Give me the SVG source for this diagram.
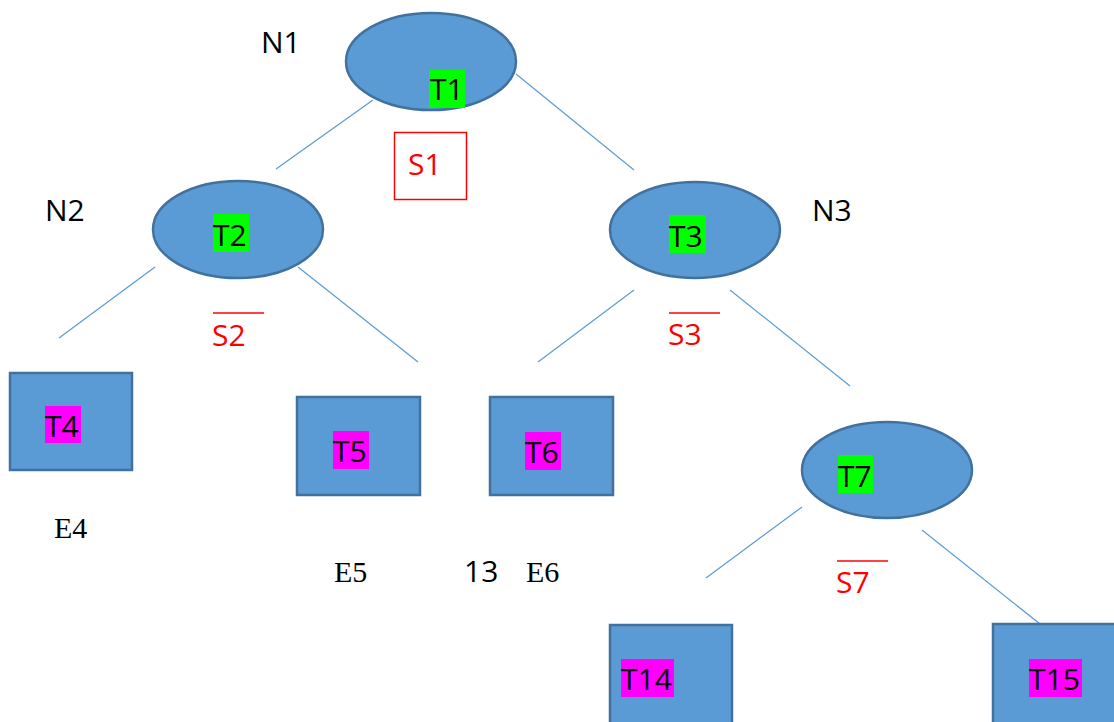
<svg xmlns="http://www.w3.org/2000/svg" width="1114" height="722" viewBox="0 0 1114 722">
<style>
.shape{fill:#5B9BD5;stroke:#41719C;stroke-width:2.5}
.edge{stroke:#5B9BD5;stroke-width:1.2;fill:none}
.lbl{font-family:"Open Sans",sans-serif;font-size:30px;fill:#000}
.hg{fill:#00FF00}
.hm{fill:#FF00FF}
.red{font-family:"Open Sans",sans-serif;font-size:30px;fill:#FF0000}
.ov{stroke:#FF0000;stroke-width:1.5}
.ser{font-family:"Liberation Serif",serif;font-size:30px;fill:#000}
</style>
<rect width="1114" height="722" fill="#fff"/>
<g id="connectors">
<line class="edge" x1="373" y1="100" x2="276" y2="169"/>
<line class="edge" x1="516" y1="74" x2="634" y2="170"/>
<line class="edge" x1="155" y1="267" x2="59" y2="338"/>
<line class="edge" x1="298" y1="267" x2="418" y2="362"/>
<line class="edge" x1="634" y1="290" x2="538" y2="362"/>
<line class="edge" x1="730" y1="290" x2="850" y2="386"/>
<line class="edge" x1="802" y1="507" x2="706" y2="578"/>
<line class="edge" x1="922" y1="530" x2="1040" y2="624"/>
</g>
<g id="N1">
<ellipse class="shape" cx="431" cy="61.5" rx="85" ry="48.5"/>
<rect class="hg" x="429" y="70" width="36" height="38"/>
<text class="lbl" x="430" y="100">T1</text>
<text class="lbl" x="261" y="53">N1</text>
</g>
<g id="S1">
<rect x="394.5" y="132.5" width="72" height="67" fill="none" stroke="#FF0000" stroke-width="1.5"/>
<text class="red" x="408" y="175">S1</text>
</g>
<g id="N2">
<ellipse class="shape" cx="238" cy="229.5" rx="85" ry="48.5"/>
<rect class="hg" x="213" y="214" width="36" height="38"/>
<text class="lbl" x="213" y="246">T2</text>
<text class="lbl" x="45" y="221">N2</text>
</g>
<g id="S2">
<line class="ov" x1="213" y1="313" x2="264" y2="313"/>
<text class="red" x="212" y="346">S2</text>
</g>
<g id="N3">
<ellipse class="shape" cx="695" cy="230" rx="85" ry="48"/>
<rect class="hg" x="669" y="215" width="37" height="38"/>
<text class="lbl" x="669" y="247">T3</text>
<text class="lbl" x="812" y="221">N3</text>
</g>
<g id="S3">
<line class="ov" x1="669" y1="313" x2="720" y2="313"/>
<text class="red" x="668" y="345">S3</text>
</g>
<g id="T4">
<rect class="shape" x="10" y="373" width="122" height="97"/>
<rect class="hm" x="45" y="406" width="36" height="37"/>
<text class="lbl" x="45" y="437">T4</text>
<text class="ser" x="54" y="538">E4</text>
</g>
<g id="T5">
<rect class="shape" x="297" y="397" width="123" height="98"/>
<rect class="hm" x="333" y="431" width="36" height="38"/>
<text class="lbl" x="333" y="462">T5</text>
<text class="ser" x="334" y="582">E5</text>
</g>
<g id="T6">
<rect class="shape" x="490" y="397" width="123" height="98"/>
<rect class="hm" x="525" y="432" width="36" height="38"/>
<text class="lbl" x="525" y="463">T6</text>
<text class="ser" x="526" y="582">E6</text>
</g>
<text class="lbl" x="464" y="582">13</text>
<g id="N7">
<ellipse class="shape" cx="887" cy="470" rx="85" ry="48"/>
<rect class="hg" x="838" y="455" width="35" height="38"/>
<text class="lbl" x="838" y="487">T7</text>
</g>
<g id="S7">
<line class="ov" x1="837" y1="561" x2="888" y2="561"/>
<text class="red" x="836" y="593">S7</text>
</g>
<g id="T14">
<rect class="shape" x="610" y="625" width="122" height="110"/>
<rect class="hm" x="621" y="659" width="53" height="38"/>
<text class="lbl" x="621" y="690">T14</text>
</g>
<g id="T15">
<rect class="shape" x="993" y="624" width="135" height="110"/>
<rect class="hm" x="1029" y="659" width="53" height="38"/>
<text class="lbl" x="1029" y="690">T15</text>
</g>
</svg>
